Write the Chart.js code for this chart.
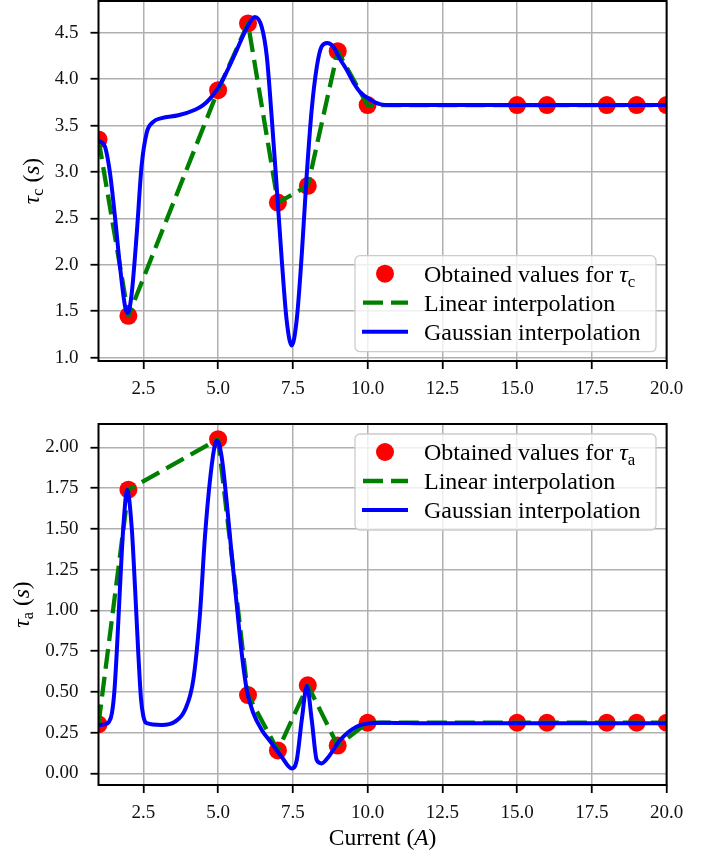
<!DOCTYPE html>
<html>
<head>
<meta charset="utf-8">
<script src="https://cdn.jsdelivr.net/npm/chart.js@4.4.1/dist/chart.umd.min.js"></script>
<style>
  body { margin: 0; background: #fff; width: 715px; height: 853px; position: relative; overflow: hidden; }
  canvas { position: absolute; left: 0; }
  #tauCChart { top: 0; }
  #tauAChart { top: 405px; }
</style>
</head>
<body>
<canvas id="tauCChart" width="715" height="405"></canvas>
<canvas id="tauAChart" width="715" height="448"></canvas>
<script>
// measured currents (A) and the fitted time constants
const currents = [1, 2, 5, 6, 7, 8, 9, 10, 15, 16, 18, 19, 20];
const tauC = [3.35, 1.45, 3.88, 4.60, 2.67, 2.85, 4.30, 3.72, 3.72, 3.72, 3.72, 3.72, 3.72];
const tauA = [0.30, 1.74, 2.05, 0.48, 0.14, 0.54, 0.17, 0.31, 0.31, 0.31, 0.31, 0.31, 0.31];

// gaussian interpolation curves
const gaussCX = [1.0, 1.1, 1.22, 1.38, 1.55, 1.72, 1.89, 1.98, 2.11, 2.28, 2.44, 2.61, 2.83, 3.11, 3.67, 4.23,
  4.5, 4.73, 5.01, 5.29, 5.62, 5.96, 6.23, 6.46, 6.63, 6.79, 6.96, 7.13, 7.29, 7.46, 7.63, 7.80, 7.96, 8.13,
  8.30, 8.46, 8.65, 8.85, 9.05, 9.30, 9.55, 9.75, 10.08, 10.41, 10.86, 12, 14, 16, 18, 20];
const gaussCY = [3.33, 3.32, 3.27, 3.00, 2.52, 1.98, 1.55, 1.48, 1.69, 2.34, 3.06, 3.42, 3.54, 3.58, 3.61, 3.67,
  3.72, 3.79, 3.91, 4.08, 4.31, 4.55, 4.67, 4.56, 4.24, 3.60, 2.84, 2.05, 1.41, 1.13, 1.41, 2.12, 2.95, 3.67,
  4.13, 4.35, 4.39, 4.35, 4.23, 4.10, 3.95, 3.86, 3.78, 3.73, 3.72, 3.72, 3.72, 3.72, 3.72, 3.72];

const gaussAX = [1.0, 1.2, 1.35, 1.45, 1.53, 1.61, 1.72, 1.83, 1.96, 2.11, 2.22, 2.33, 2.42, 2.50, 2.61, 3.11,
  3.56, 3.89, 4.17, 4.39, 4.56, 4.73, 4.90, 4.97, 5.12, 5.29, 5.45, 5.62, 5.79, 5.96, 6.18, 6.46, 6.79, 7.13,
  7.46, 7.63, 7.80, 7.97, 8.13, 8.30, 8.46, 8.69, 9.08, 9.63, 10.08, 10.5, 12, 14, 16, 18, 20];
const gaussAY = [0.296, 0.30, 0.315, 0.37, 0.50, 0.74, 1.145, 1.51, 1.738, 1.51, 1.145, 0.74, 0.46, 0.35, 0.307, 0.296,
  0.317, 0.388, 0.572, 0.97, 1.45, 1.80, 2.02, 2.04, 1.94, 1.66, 1.35, 1.04, 0.736, 0.51, 0.368, 0.266, 0.184, 0.10,
  0.03, 0.08, 0.33, 0.535, 0.33, 0.08, 0.06, 0.10, 0.204, 0.286, 0.307, 0.31, 0.307, 0.307, 0.307, 0.307, 0.307];

const xTicks = [2.5, 5, 7.5, 10, 12.5, 15, 17.5, 20];
const tauCTicks = [1.0, 1.5, 2.0, 2.5, 3.0, 3.5, 4.0, 4.5];
const tauATicks = [0, 0.25, 0.5, 0.75, 1.0, 1.25, 1.5, 1.75, 2.0];

const SERIF = '"Liberation Serif", "Times New Roman", serif';

// draws text made of pieces (italic / subscript), like the mathtext labels
function drawRich(ctx, parts, x, y, size, align) {
  const fontFor = p => (p.it ? 'italic ' : '') + (p.sub ? size * 0.7 : size) + 'px ' + SERIF;
  let w = 0;
  parts.forEach(p => { ctx.font = fontFor(p); w += ctx.measureText(p.t).width; });
  let cx = align === 'center' ? x - w / 2 : x;
  ctx.textAlign = 'left';
  ctx.textBaseline = 'alphabetic';
  parts.forEach(p => {
    ctx.font = fontFor(p);
    ctx.fillText(p.t, cx, y + (p.sub ? size * 0.2 : 0));
    cx += ctx.measureText(p.t).width;
  });
}

const panelDecor = {
  id: 'panelDecor',
  afterDraw(chart, args, o) {
    const { ctx, chartArea: a } = chart;
    const [gauss, linear, obs] = chart.data.datasets;
    ctx.save();

    // spines
    ctx.strokeStyle = '#000';
    ctx.lineWidth = 2;
    ctx.strokeRect(a.left, a.top, a.right - a.left, a.bottom - a.top);

    // y title
    ctx.fillStyle = '#000';
    ctx.save();
    ctx.translate(a.left - o.yTitleGap, (a.top + a.bottom) / 2);
    ctx.rotate(-Math.PI / 2);
    drawRich(ctx, [{ t: 'τ', it: true }, { t: o.sub, sub: true }, { t: ' (' }, { t: 's', it: true }, { t: ')' }], 0, 0, 23.5, 'center');
    ctx.restore();

    // x title
    if (o.xTitle) {
      drawRich(ctx, [{ t: 'Current (' }, { t: 'A', it: true }, { t: ')' }], (a.left + a.right) / 2, a.bottom + 60, 23.5, 'center');
    }

    // legend
    const w = 301, h = 96;
    const x0 = a.right - 10.6 - w;
    const y0 = o.legendPos === 'bottom' ? a.bottom - 9.3 - h : a.top + 10;
    ctx.beginPath();
    ctx.roundRect(x0, y0, w, h, 5);
    ctx.fillStyle = 'rgba(255,255,255,0.8)';
    ctx.fill();
    ctx.strokeStyle = '#cccccc';
    ctx.lineWidth = 1.3;
    ctx.stroke();

    const rows = [18, 47, 76];
    ctx.fillStyle = obs.pointBackgroundColor;
    ctx.beginPath();
    ctx.arc(x0 + 30, y0 + rows[0], obs.pointRadius, 0, Math.PI * 2);
    ctx.fill();

    ctx.lineCap = 'butt';
    ctx.strokeStyle = linear.borderColor;
    ctx.lineWidth = linear.borderWidth;
    ctx.setLineDash(linear.borderDash);
    ctx.beginPath();
    ctx.moveTo(x0 + 8, y0 + rows[1]);
    ctx.lineTo(x0 + 53, y0 + rows[1]);
    ctx.stroke();
    ctx.setLineDash([]);

    ctx.strokeStyle = gauss.borderColor;
    ctx.lineWidth = gauss.borderWidth;
    ctx.beginPath();
    ctx.moveTo(x0 + 7, y0 + rows[2]);
    ctx.lineTo(x0 + 53, y0 + rows[2]);
    ctx.stroke();

    ctx.fillStyle = '#000';
    drawRich(ctx, [{ t: 'Obtained values for ' }, { t: 'τ', it: true }, { t: o.sub, sub: true }], x0 + 69, y0 + rows[0] + 8, 24, 'left');
    drawRich(ctx, [{ t: linear.label }], x0 + 69, y0 + rows[1] + 8, 24, 'left');
    drawRich(ctx, [{ t: gauss.label }], x0 + 69, y0 + rows[2] + 8, 24, 'left');

    ctx.restore();
  }
};

function toPoints(xs, ys) {
  return xs.map((x, i) => ({ x, y: ys[i] }));
}

function buildPanel(id, p) {
  const tickFont = { family: SERIF, size: 19 };
  const grid = { color: '#b0b0b0', lineWidth: 1.5, tickColor: '#000', tickLength: 8, tickWidth: 1.8 };
  return new Chart(document.getElementById(id), {
    type: 'line',
    data: {
      datasets: [
        {
          label: 'Gaussian interpolation',
          data: toPoints(p.gx, p.gy),
          borderColor: '#0000ff', borderWidth: 4, pointRadius: 0,
          cubicInterpolationMode: 'monotone', borderJoinStyle: 'round', order: 1, clip: 0
        },
        {
          label: 'Linear interpolation',
          data: toPoints(currents, p.obs),
          borderColor: '#008000', borderWidth: 4.3, borderDash: [20, 8], pointRadius: 0,
          tension: 0, borderJoinStyle: 'round', order: 2, clip: 0
        },
        {
          label: 'Obtained values',
          data: toPoints(currents, p.obs),
          showLine: false, pointRadius: 9, pointBackgroundColor: '#ff0000',
          pointBorderColor: '#ff0000', pointBorderWidth: 0, order: 3, clip: 0
        }
      ]
    },
    options: {
      responsive: false,
      animation: false,
      events: [],
      layout: { autoPadding: false, padding: { left: 0, right: 48.4, top: p.padTop, bottom: 0 } },
      scales: {
        x: {
          type: 'linear', min: 1, max: 20,
          afterBuildTicks: s => { s.ticks = xTicks.map(v => ({ value: v })); },
          afterFit: s => { s.height = p.xAxisH; s.paddingLeft = 0; s.paddingRight = 0; },
          ticks: { font: tickFont, color: '#111', padding: 8.5, maxRotation: 0, autoSkip: false, callback: v => v.toFixed(1) },
          grid: grid,
          border: { display: false }
        },
        y: {
          type: 'linear', min: p.yMin, max: p.yMax,
          afterBuildTicks: s => { s.ticks = p.yTicks.map(v => ({ value: v })); },
          afterFit: s => { s.width = 98.5; s.paddingTop = 0; s.paddingBottom = 0; },
          ticks: { font: tickFont, color: '#111', padding: 12, autoSkip: false, callback: v => v.toFixed(p.digits) },
          grid: grid,
          border: { display: false }
        }
      },
      plugins: {
        legend: { display: false },
        tooltip: { enabled: false },
        panelDecor: { sub: p.sub, legendPos: p.legendPos, yTitleGap: p.yTitleGap, xTitle: p.xTitle }
      }
    },
    plugins: [panelDecor]
  });
}

buildPanel('tauCChart', {
  obs: tauC, gx: gaussCX, gy: gaussCY,
  yMin: 0.964, yMax: 4.841, yTicks: tauCTicks, digits: 1,
  sub: 'c', legendPos: 'bottom', yTitleGap: 60, xTitle: false,
  padTop: 1, xAxisH: 44
});

buildPanel('tauAChart', {
  obs: tauA, gx: gaussAX, gy: gaussAY,
  yMin: -0.072, yMax: 2.143, yTicks: tauATicks, digits: 2,
  sub: 'a', legendPos: 'top', yTitleGap: 70, xTitle: true,
  padTop: 19, xAxisH: 68
});
</script>
</body>
</html>
